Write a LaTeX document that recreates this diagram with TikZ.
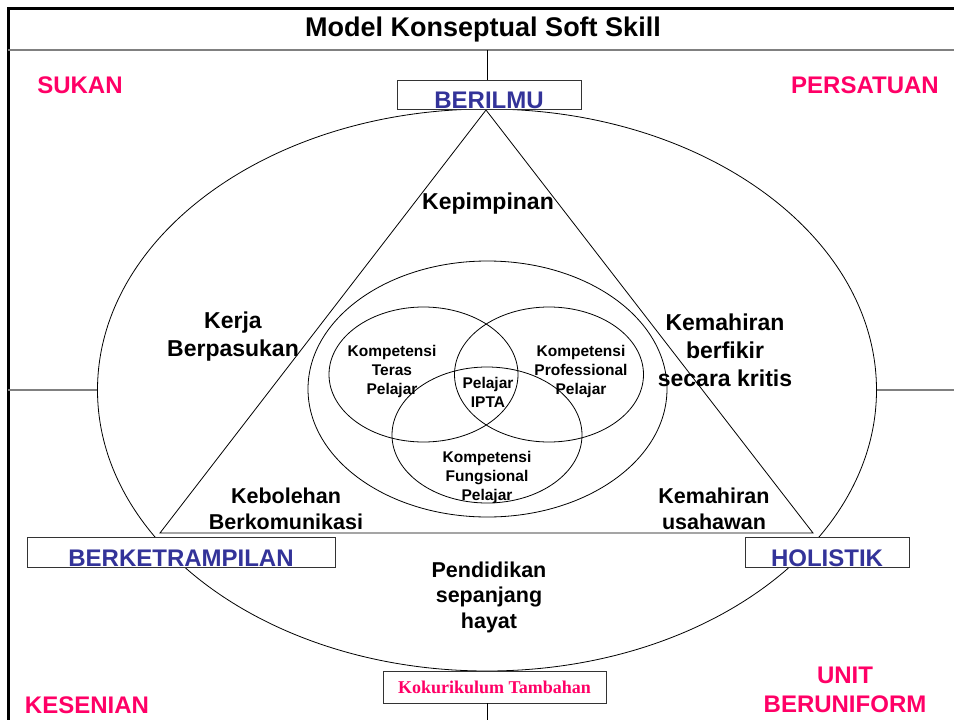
\documentclass[tikz,border=0pt]{standalone}
\usepackage{fontspec}
\setmainfont{Liberation Sans}
\newfontfamily\serifbold{Liberation Serif}
\usetikzlibrary{positioning,shapes.geometric}
\definecolor{clubred}{HTML}{FF0066}
\definecolor{tagblue}{HTML}{333399}
\tikzstyle{ring}=[ellipse,draw,inner sep=0pt,line width=0.8pt]
\tikzstyle{tag}=[rectangle,draw=black!80,fill=white,line width=0.8pt,inner sep=0pt,text height=28pt,text depth=1pt,text=tagblue,font=\fontsize{24}{28}\selectfont\bfseries]
\tikzstyle{club}=[align=center,text=clubred,font=\fontsize{24}{29}\selectfont\bfseries]
\tikzstyle{skill}=[align=center,font=\fontsize{23}{28}\selectfont\bfseries]
\tikzstyle{subskill}=[align=center,font=\fontsize{21.5}{25.5}\selectfont\bfseries]
\tikzstyle{core}=[align=center,font=\fontsize{15.5}{19}\selectfont\bfseries]
\tikzstyle{rule}=[draw=gray,line width=1.6pt]

\begin{document}
\begin{tikzpicture}[x=1pt,y=-1pt]
\useasboundingbox (0,0) rectangle (954,720);

\draw [line width=3pt] (954,8) -- (8,8) -- (8,720) ;
\draw [rule] (8,50) -- (954,50) ;
\node (title) at (483,30) [font=\fontsize{27}{32}\selectfont\bfseries] {Model Konseptual Soft Skill} ;

\node (outer) [ring,minimum width=779pt,minimum height=562pt] at (487,390) {} ;
\node (mid) [ring,minimum width=359pt,minimum height=256pt] at (487.5,389) {} ;
\node (teras) [ring,minimum width=189pt,minimum height=135pt] at (423.5,374.5) {} ;
\node (prof) [ring,minimum width=189pt,minimum height=135pt] at (549,374.5) {} ;
\node (fung) [ring,minimum width=190pt,minimum height=136pt] at (487,435) {} ;

\coordinate (apex) at (486,110) ;
\coordinate (left) at (160,533) ;
\coordinate (right) at (813,533) ;
\draw [line width=0.8pt] (apex) -- (left) -- (right) -- cycle ;

\node (berilmu) [tag,minimum width=184pt] at (489,94.5) {BERILMU} ;
\node (berket) [tag,minimum width=308pt,text height=29pt] at (181,552) {BERKETRAMPILAN} ;
\node (holistik) [tag,minimum width=164pt,text height=29pt] at (827,552) {HOLISTIK} ;
\node (koku) [rectangle,draw=black!80,fill=white,line width=0.8pt,minimum width=223pt,minimum height=32pt,text=clubred,font=\serifbold\fontsize{18}{22}\selectfont\bfseries] at (494.5,687) {Kokurikulum Tambahan} ;

\coordinate (titlebar) at (487,50) ;
\coordinate (floor) at (487,720) ;
\coordinate (westbar) at (8,390) ;
\coordinate (eastbar) at (954,390) ;
\draw [line width=0.8pt] (titlebar) -- (titlebar |- berilmu.north) ;
\draw [line width=0.8pt] (koku.south -| floor) -- (floor) ;
\draw [rule] (westbar) -- (outer.west) ;
\draw [rule] (outer.east) -- (eastbar) ;

\node (sukan) [club] at (80,85) {SUKAN} ;
\node (persatuan) [club] at (865,85) {PERSATUAN} ;
\node (kesenian) [club] at (87,705) {KESENIAN} ;
\node (unit) [club] at (845,690) {UNIT\\BERUNIFORM} ;

\node (kepimpinan) [skill] at (488,204) {Kepimpinan} ;
\node (kerja) [skill] at (233,337) {Kerja\\Berpasukan} ;
\node (kritis) [skill] at (725,350) {Kemahiran\\berfikir\\secara kritis} ;
\node (komunikasi) [subskill] at (286,509) {Kebolehan\\Berkomunikasi} ;
\node (usahawan) [subskill] at (714,509) {Kemahiran\\usahawan} ;
\node (hayat) [subskill] at (489,597) {Pendidikan\\sepanjang\\hayat} ;

\node (terastxt) [core] at (392,371) {Kompetensi\\Teras\\Pelajar} ;
\node (proftxt) [core] at (581,371) {Kompetensi\\Professional\\Pelajar} ;
\node (ipta) [core] at (488,392) {Pelajar\\IPTA} ;
\node (fungtxt) [core] at (487,477) {Kompetensi\\Fungsional\\Pelajar} ;

\end{tikzpicture}
\end{document}
